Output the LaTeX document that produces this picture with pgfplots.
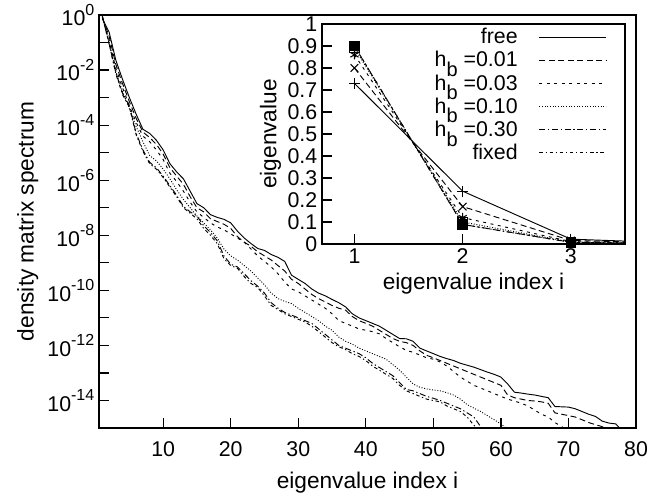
\documentclass[border=0pt]{standalone}
\usepackage{fontspec}
\setmainfont{Liberation Sans}
\usepackage{pgfplots}
\pgfplotsset{compat=1.18}

\newcommand{\ee}[1]{10\raisebox{0.5em}{\fontsize{12}{12}\selectfont #1}}
\newcommand{\hb}{h\raisebox{-0.45em}[0pt][0pt]{\fontsize{15}{15}\selectfont b}}

\pgfplotsset{
  gp/.style={
    tick align=inside,
    tick pos=left,
    major tick length=7.5pt,
    axis line style={line width=1.1pt},
    major tick style={line width=0.9pt, black},
    tick label style={font=\fontsize{16}{19}\selectfont},
    label style={font=\fontsize{17}{20}\selectfont},
    /pgf/number format/assume math mode=true,
  },
  free/.style={black, line width=0.7pt},
  hA/.style={black, line width=0.7pt, dash pattern=on 4.5pt off 2.6pt},
  hB/.style={black, line width=0.7pt, dash pattern=on 2.2pt off 3.4pt},
  hC/.style={black, line width=0.7pt, dash pattern=on 0.7pt off 1.3pt},
  hD/.style={black, line width=0.7pt, dash pattern=on 4.5pt off 2pt on 1pt off 2pt},
  hE/.style={black, line width=0.7pt, dash pattern=on 2.6pt off 2pt on 1pt off 2pt},
}

\begin{document}
\begin{tikzpicture}
\begin{axis}[
  gp,
  scale only axis,
  width=402.75pt, height=309.75pt,
  at={(0pt,0pt)}, anchor=south west,
  xmin=0.5, xmax=80,
  ymode=log, ymin=1e-15, ymax=1,
  xtick={10,20,30,40,50,60,70,80},
  xticklabel style={yshift=-7pt},
  ytick={1e-14,1e-13,1e-12,1e-11,1e-10,1e-9,1e-8,1e-7,1e-6,1e-5,1e-4,1e-3,1e-2,1e-1,1},
  yticklabels={\ee{-14},{},\ee{-12},{},\ee{-10},{},\ee{-8},{},\ee{-6},{},\ee{-4},{},\ee{-2},{},\ee{0}},
  yminorticks=false,
  xlabel={eigenvalue index i},
  xlabel style={yshift=-4pt},
  ylabel={density matrix spectrum},
]
% free
\addplot[free] coordinates {
 (1,0.73)(2,0.24)(3,2.24e-2)(4,4.47e-3)(5,1e-3)(6,2.51e-4)(7,7.08e-5)(8,5.01e-5)(9,2.82e-5)(10,1.26e-5)
 (11,3.98e-6)(12,2.0e-6)(13,1.12e-6)(14,3.98e-7)(15,1.41e-7)(16,1e-7)(17,5.62e-8)(18,4.47e-8)(19,3.80e-8)(20,2.82e-8)
 (21,1.41e-8)(22,7.94e-9)(23,5.01e-9)(24,3.31e-9)(25,2.82e-9)(26,2.0e-9)(27,1.58e-9)(28,1.12e-9)(29,3.55e-10)(30,2.51e-10)
 (31,1.78e-10)(32,1.12e-10)(33,7.94e-11)(34,6.31e-11)(35,4.68e-11)(36,3.55e-11)(37,2.51e-11)(38,1.41e-11)(39,1e-11)(40,7.94e-12)
 (41,6.31e-12)(42,5.01e-12)(43,3.55e-12)(44,2.51e-12)(45,1.78e-12)(46,1.74e-12)(47,1.41e-12)(48,7.94e-13)(49,6.31e-13)(50,5.01e-13)
 (51,3.98e-13)(52,3.31e-13)(53,2.82e-13)(54,2.24e-13)(55,1.91e-13)(56,1.62e-13)(57,1.32e-13)(58,1.07e-13)(59,8.91e-14)(60,7.08e-14)
 (61,3.98e-14)(62,2.0e-14)(63,1.86e-14)(64,1.70e-14)(65,1.58e-14)(66,1.41e-14)(67,1.26e-14)(68,6.03e-15)(69,5.89e-15)(70,5.75e-15)
 (71,5.01e-15)(72,3.98e-15)(73,3.16e-15)(74,2.63e-15)(75,1.78e-15)(76,1.51e-15)(77,1.41e-15)(78,7.94e-16)
};
% hb = 0.01
\addplot[hA] coordinates {
 (1,0.80)(2,0.17)(3,1.58e-2)(4,3.16e-3)(5,7.08e-4)(6,1.78e-4)(7,5.62e-5)(8,3.55e-5)(9,2.0e-5)(10,8.91e-6)
 (11,2.82e-6)(12,1.41e-6)(13,7.08e-7)(14,2.51e-7)(15,1e-7)(16,7.08e-8)(17,3.98e-8)(18,3.16e-8)(19,2.51e-8)(20,1.78e-8)
 (21,8.91e-9)(22,5.62e-9)(23,3.98e-9)(24,2.51e-9)(25,1.78e-9)(26,1.26e-9)(27,7.94e-10)(28,5.01e-10)(29,2.51e-10)(30,1.78e-10)
 (31,1.12e-10)(32,7.08e-11)(33,5.01e-11)(34,3.80e-11)(35,2.82e-11)(36,2.24e-11)(37,1.91e-11)(38,1.12e-11)(39,7.94e-12)(40,6.31e-12)
 (41,5.01e-12)(42,3.55e-12)(43,2.51e-12)(44,1.78e-12)(45,1.41e-12)(46,1.26e-12)(47,1e-12)(48,6.31e-13)(49,4.37e-13)(50,3.55e-13)
 (51,2.82e-13)(52,2.24e-13)(53,1.78e-13)(54,1.41e-13)(55,1.12e-13)(56,8.91e-14)(57,7.08e-14)(58,5.62e-14)(59,4.47e-14)(60,3.55e-14)
 (61,1.58e-14)(62,1.26e-14)(63,1.12e-14)(64,1e-14)(65,9.55e-15)(66,8.91e-15)(67,7.94e-15)(68,3.55e-15)(69,3.16e-15)(70,2.82e-15)
 (71,2.51e-15)(72,2.0e-15)(73,1.58e-15)(74,1.32e-15)(75,1.12e-15)(76,7.94e-16)
};
% hb = 0.03
\addplot[hB] coordinates {
 (1,0.86)(2,0.12)(3,1.12e-2)(4,2.24e-3)(5,5.01e-4)(6,1.26e-4)(7,3.98e-5)(8,2.51e-5)(9,1.26e-5)(10,5.62e-6)
 (11,1.78e-6)(12,8.91e-7)(13,3.98e-7)(14,1.58e-7)(15,7.08e-8)(16,4.47e-8)(17,2.82e-8)(18,2.0e-8)(19,1.58e-8)(20,1.12e-8)
 (21,7.94e-9)(22,5.62e-9)(23,3.16e-9)(24,1.78e-9)(25,1.12e-9)(26,7.08e-10)(27,3.98e-10)(28,2.0e-10)(29,1.12e-10)(30,8.91e-11)
 (31,6.31e-11)(32,4.47e-11)(33,3.16e-11)(34,2.24e-11)(35,1.41e-11)(36,7.94e-12)(37,6.31e-12)(38,5.01e-12)(39,3.98e-12)(40,3.55e-12)
 (41,3.16e-12)(42,2.63e-12)(43,1.78e-12)(44,1.26e-12)(45,8.91e-13)(46,6.61e-13)(47,5.62e-13)(48,4.47e-13)(49,3.55e-13)(50,3.16e-13)
 (51,2.51e-13)(52,1.78e-13)(53,1.12e-13)(54,7.08e-14)(55,5.01e-14)(56,3.55e-14)(57,2.82e-14)(58,2.24e-14)(59,1.78e-14)(60,1.41e-14)
 (61,1.12e-14)(62,9.55e-15)(63,7.94e-15)(64,6.31e-15)(65,4.47e-15)(66,3.16e-15)(67,2.51e-15)(68,1.58e-15)(69,1.12e-15)(70,7.94e-16)
};
% hb = 0.10
\addplot[hC] coordinates {
 (1,0.89)(2,0.10)(3,8.91e-3)(4,1.58e-3)(5,3.98e-4)(6,8.91e-5)(7,2.51e-5)(8,7.94e-6)(9,5.01e-6)(10,2.51e-6)
 (11,1.12e-6)(12,4.47e-7)(13,2.0e-7)(14,1e-7)(15,5.01e-8)(16,2.82e-8)(17,1.58e-8)(18,7.94e-9)(19,3.16e-9)(20,1.78e-9)
 (21,1.26e-9)(22,7.94e-10)(23,5.01e-10)(24,2.82e-10)(25,1.58e-10)(26,7.94e-11)(27,5.01e-11)(28,3.98e-11)(29,3.31e-11)(30,2.24e-11)
 (31,1.58e-11)(32,1.12e-11)(33,7.94e-12)(34,5.01e-12)(35,3.55e-12)(36,2.0e-12)(37,1.41e-12)(38,1.12e-12)(39,7.94e-13)(40,6.31e-13)
 (41,5.01e-13)(42,3.98e-13)(43,3.16e-13)(44,2.0e-13)(45,1.26e-13)(46,7.08e-14)(47,3.98e-14)(48,3.02e-14)(49,2.63e-14)(50,2.40e-14)
 (51,2.24e-14)(52,1.91e-14)(53,1.58e-14)(54,1.12e-14)(55,7.08e-15)(56,5.25e-15)(57,3.98e-15)(58,2.82e-15)(59,2.0e-15)(60,1.41e-15)
 (61,8.91e-16)
};
% hb = 0.30
\addplot[hD] coordinates {
 (1,0.90)(2,0.089)(3,7.94e-3)(4,1.41e-3)(5,5.01e-4)(6,5.01e-5)(7,1.26e-5)(8,4.47e-6)(9,2.82e-6)(10,1.41e-6)
 (11,6.31e-7)(12,2.82e-7)(13,1.12e-7)(14,7.08e-8)(15,5.01e-8)(16,2.24e-8)(17,1.26e-8)(18,6.31e-9)(19,1.78e-9)(20,8.91e-10)
 (21,7.08e-10)(22,3.98e-10)(23,2.24e-10)(24,1.41e-10)(25,7.94e-11)(26,3.55e-11)(27,2.24e-11)(28,1.58e-11)(29,1.26e-11)(30,1e-11)
 (31,7.94e-12)(32,6.31e-12)(33,3.98e-12)(34,2.51e-12)(35,1.58e-12)(36,1e-12)(37,7.94e-13)(38,6.31e-13)(39,5.01e-13)(40,3.55e-13)
 (41,2.24e-13)(42,1.58e-13)(43,1.12e-13)(44,7.94e-14)(45,4.47e-14)(46,2.51e-14)(47,2.24e-14)(48,1.78e-14)(49,1.41e-14)(50,1.20e-14)
 (51,1e-14)(52,7.94e-15)(53,6.31e-15)(54,5.01e-15)(55,3.55e-15)(56,2.51e-15)(57,1.12e-15)(58,7.94e-16)
};
% fixed
\addplot[hE] coordinates {
 (1,0.90)(2,0.089)(3,7.08e-3)(4,1.26e-3)(5,4.47e-4)(6,4.47e-5)(7,1.12e-5)(8,3.98e-6)(9,2.51e-6)(10,1.26e-6)
 (11,5.62e-7)(12,2.51e-7)(13,1e-7)(14,6.31e-8)(15,3.98e-8)(16,1.78e-8)(17,1e-8)(18,5.01e-9)(19,1.41e-9)(20,7.94e-10)
 (21,6.31e-10)(22,3.16e-10)(23,1.78e-10)(24,1.26e-10)(25,6.31e-11)(26,2.82e-11)(27,2.0e-11)(28,1.41e-11)(29,1.12e-11)(30,8.91e-12)
 (31,7.08e-12)(32,5.01e-12)(33,3.16e-12)(34,2.0e-12)(35,1.26e-12)(36,8.91e-13)(37,7.08e-13)(38,5.01e-13)(39,3.98e-13)(40,2.82e-13)
 (41,1.78e-13)(42,1.26e-13)(43,8.91e-14)(44,6.31e-14)(45,3.55e-14)(46,2.24e-14)(47,1.78e-14)(48,1.41e-14)(49,1.12e-14)(50,1e-14)
 (51,8.91e-15)(52,6.31e-15)(53,5.01e-15)(54,3.98e-15)(55,2.51e-15)(56,1.26e-15)(57,7.94e-16)
};
\end{axis}

\begin{axis}[
  gp,
  scale only axis,
  width=227.25pt, height=165pt,
  at={(167.25pt,138pt)}, anchor=south west,
  axis background/.style={fill=white},
  xmin=0.7, xmax=3.5, ymin=0, ymax=1,
  xtick={1,2,3},
  ytick={0,0.1,0.2,0.3,0.4,0.5,0.6,0.7,0.8,0.9,1},
  xlabel={eigenvalue index i},
  ylabel={eigenvalue},
  ylabel style={yshift=-2pt},
  legend plot pos=right,
  legend cell align=right,
  legend style={draw=none, fill=none, at={(rel axis cs:0.94,1)}, anchor=north east, yshift=-1pt,
    font=\fontsize{16}{17.5}\selectfont, row sep=0.3pt, inner sep=0pt},
  legend image code/.code={\path (0pt,0pt); \draw[#1] (14pt,0pt) -- (64pt,0pt);},
  mark options={solid, line width=0.8pt},
]
\addplot[free, mark=+, mark size=4pt] coordinates {(1,0.73)(2,0.24)(3,0.022)(4,0.0045)};
\addlegendentry{free}
\addplot[hA, mark=x, mark size=4pt] coordinates {(1,0.80)(2,0.17)(3,0.016)(4,0.0032)};
\addlegendentry{\hb\ =0.01}
\addplot[hB, mark=asterisk, mark size=3.5pt] coordinates {(1,0.86)(2,0.12)(3,0.011)(4,0.0022)};
\addlegendentry{\hb\ =0.03}
\addplot[hC, mark=square, mark size=3.5pt] coordinates {(1,0.89)(2,0.10)(3,0.0089)(4,0.0016)};
\addlegendentry{\hb\ =0.10}
\addplot[hD, mark=square*, mark size=3.5pt] coordinates {(1,0.90)(2,0.089)(3,0.0079)(4,0.0014)};
\addlegendentry{\hb\ =0.30}
\addplot[hE, mark=square*, mark size=3.5pt] coordinates {(1,0.90)(2,0.089)(3,0.0071)(4,0.0013)};
\addlegendentry{fixed}
\end{axis}

\pgfresetboundingbox
\useasboundingbox (-74.25pt,-48.75pt) rectangle (429pt,321pt);
\end{tikzpicture}
\end{document}
